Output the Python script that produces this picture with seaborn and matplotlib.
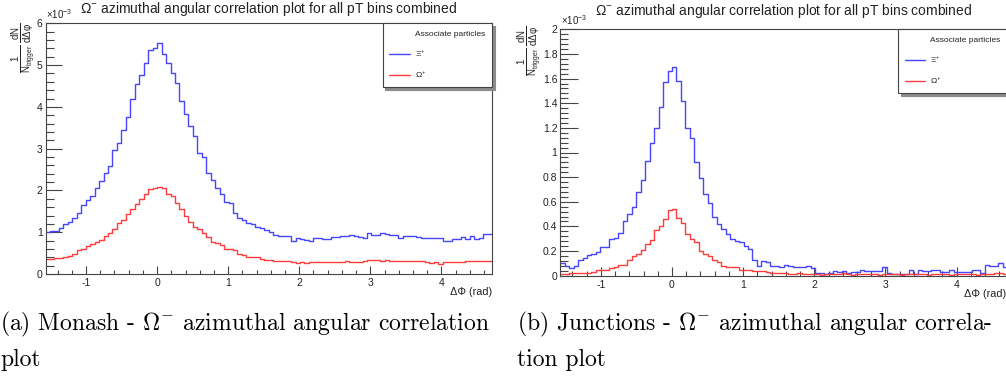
import numpy as np
import matplotlib
matplotlib.use("Agg")
import matplotlib.pyplot as plt
import seaborn as sns
from matplotlib.lines import Line2D
from matplotlib.ticker import MultipleLocator, FixedLocator

# Per-trigger yields (units of 1e-3) in 100 equal bins of delta-phi over [-pi/2, 3pi/2)
monash_xi = [
    1.00, 1.02, 1.04, 1.11, 1.19, 1.25, 1.35, 1.45, 1.64, 1.77,
    1.87, 2.05, 2.23, 2.41, 2.59, 2.96, 3.14, 3.44, 3.76, 4.18,
    4.54, 4.76, 5.06, 5.37, 5.42, 5.53, 5.26, 5.06, 4.80, 4.56,
    4.14, 3.84, 3.54, 3.30, 2.89, 2.79, 2.42, 2.26, 2.05, 1.91,
    1.73, 1.69, 1.47, 1.34, 1.30, 1.22, 1.19, 1.13, 1.10, 1.05,
    1.01, 0.93, 0.91, 0.91, 0.90, 0.79, 0.87, 0.83, 0.82, 0.79,
    0.87, 0.85, 0.84, 0.84, 0.88, 0.89, 0.90, 0.92, 0.93, 0.92,
    0.88, 0.86, 0.99, 0.94, 0.93, 0.97, 0.96, 0.93, 0.94, 0.85,
    0.91, 0.91, 0.92, 0.88, 0.86, 0.85, 0.86, 0.86, 0.85, 0.80,
    0.80, 0.83, 0.84, 0.89, 0.83, 0.90, 0.84, 0.86, 0.96, 0.95,
]
monash_omega = [
    0.35, 0.36, 0.38, 0.38, 0.40, 0.44, 0.49, 0.57, 0.61, 0.67,
    0.72, 0.77, 0.81, 0.91, 0.97, 1.07, 1.23, 1.29, 1.44, 1.55,
    1.68, 1.79, 1.91, 2.03, 2.06, 2.08, 2.05, 1.91, 1.87, 1.69,
    1.55, 1.39, 1.25, 1.12, 1.07, 0.99, 0.88, 0.77, 0.73, 0.69,
    0.60, 0.59, 0.57, 0.49, 0.45, 0.41, 0.40, 0.40, 0.35, 0.33,
    0.33, 0.32, 0.30, 0.30, 0.31, 0.28, 0.27, 0.28, 0.27, 0.28,
    0.29, 0.28, 0.29, 0.29, 0.28, 0.29, 0.29, 0.30, 0.29, 0.29,
    0.29, 0.32, 0.33, 0.33, 0.33, 0.32, 0.33, 0.32, 0.30, 0.31,
    0.31, 0.30, 0.30, 0.31, 0.30, 0.28, 0.27, 0.28, 0.24, 0.28,
    0.28, 0.28, 0.29, 0.28, 0.30, 0.31, 0.31, 0.31, 0.32, 0.31,
]
junctions_xi = [
    0.10, 0.08, 0.06, 0.08, 0.13, 0.14, 0.17, 0.18, 0.19, 0.23,
    0.23, 0.30, 0.31, 0.35, 0.44, 0.50, 0.56, 0.68, 0.78, 0.93,
    1.08, 1.20, 1.37, 1.57, 1.66, 1.69, 1.58, 1.42, 1.20, 1.12,
    0.92, 0.79, 0.66, 0.59, 0.48, 0.42, 0.38, 0.34, 0.30, 0.28,
    0.27, 0.24, 0.22, 0.13, 0.08, 0.12, 0.11, 0.08, 0.08, 0.07,
    0.09, 0.08, 0.07, 0.07, 0.07, 0.08, 0.06, 0.02, 0.02, 0.01,
    0.02, 0.04, 0.03, 0.04, 0.02, 0.03, 0.03, 0.05, 0.04, 0.04,
    0.04, 0.04, 0.07, 0.02, 0.01, 0.01, 0.01, 0.01, 0.05, 0.01,
    0.05, 0.04, 0.04, 0.05, 0.05, 0.03, 0.03, 0.05, 0.03, 0.03,
    0.03, 0.03, 0.05, 0.05, 0.02, 0.09, 0.08, 0.08, 0.10, 0.07,
]
junctions_omega = [
    0.010, 0.015, 0.020, 0.020, 0.020, 0.020, 0.020, 0.030, 0.050, 0.050,
    0.050, 0.060, 0.070, 0.090, 0.090, 0.130, 0.160, 0.180, 0.210, 0.260,
    0.290, 0.370, 0.400, 0.460, 0.530, 0.540, 0.470, 0.430, 0.340, 0.300,
    0.270, 0.200, 0.180, 0.160, 0.130, 0.110, 0.080, 0.070, 0.070, 0.070,
    0.050, 0.050, 0.050, 0.040, 0.040, 0.040, 0.030, 0.020, 0.020, 0.020,
    0.020, 0.015, 0.010, 0.020, 0.010, 0.015, 0.010, 0.010, 0.005, 0.010,
    0.015, 0.010, 0.010, 0.020, 0.010, 0.005, 0.010, 0.010, 0.015, 0.010,
    0.010, 0.005, 0.010, 0.015, 0.010, 0.010, 0.005, 0.010, 0.010, 0.015,
    0.010, 0.010, 0.005, 0.010, 0.015, 0.010, 0.010, 0.005, 0.010, 0.010,
    0.015, 0.010, 0.010, 0.005, 0.010, 0.015, 0.010, 0.020, 0.020, 0.015,
]

x_ticks = [-1, 0, 1, 2, 3, 4]
x_tick_labels = ["-1", "0", "1", "2", "3", "4"]
y_ticks_monash = [0, 1, 2, 3, 4, 5, 6]
y_tick_labels_monash = ["0", "1", "2", "3", "4", "5", "6"]
y_ticks_junctions = [0, 0.2, 0.4, 0.6, 0.8, 1.0, 1.2, 1.4, 1.6, 1.8, 2.0]
y_tick_labels_junctions = ["0", "0.2", "0.4", "0.6", "0.8", "1", "1.2", "1.4", "1.6", "1.8", "2"]

legend_header = "Associate particles"
legend_labels = [r"Ξ$^{+}$", r"Ω$^{+}$"]
plot_title = r"$\Omega^{-}$ azimuthal angular correlation plot for all pT bins combined"
captions = [
    (r"(a) Monash - $\Omega^{-}$ azimuthal angular correlation", "plot"),
    (r"(b) Junctions - $\Omega^{-}$ azimuthal angular correla-", "tion plot"),
]

sns.set_theme(style="white")
plt.rcParams["font.family"] = ["Liberation Sans", "DejaVu Sans"]
plt.rcParams["mathtext.fontset"] = "custom"
plt.rcParams["mathtext.rm"] = "Liberation Sans"
plt.rcParams["mathtext.it"] = "Liberation Sans:italic"
plt.rcParams["mathtext.bf"] = "Liberation Sans:bold"
plt.rcParams["axes.unicode_minus"] = False

BLUE = "#4646ff"
RED = "#ff3c3c"
FRAME = "#444444"

edges = np.linspace(-np.pi / 2, 3 * np.pi / 2, 101)
centers = 0.5 * (edges[:-1] + edges[1:])
bin_list = edges.tolist()

W, H = 1006, 381
fig = plt.figure(figsize=(W / 100, H / 100), dpi=100)
fig.patch.set_facecolor("white")

panels = [
    dict(rect=(45.5, 23.3, 492.0, 274.0), xi=monash_xi, om=monash_omega, ymax=6,
         yt=y_ticks_monash, ytl=y_tick_labels_monash, ymin_step=0.2,
         ylen=(11.3, 5.5), xlen=(5.8, 2.9), title_y=13, exp_y=19, ylab=(23, 48),
         xlab_y=295, cap_x=0),
    dict(rect=(560.2, 29.3, 1007.3, 275.7), xi=junctions_xi, om=junctions_omega, ymax=2,
         yt=y_ticks_junctions, ytl=y_tick_labels_junctions, ymin_step=0.04,
         ylen=(12.6, 6.0), xlen=(6.5, 3.6), title_y=15.5, exp_y=25, ylab=(529, 51),
         xlab_y=297, cap_x=517),
]

for k, p in enumerate(panels):
    x0, y0, x1, y1 = p["rect"]
    ax = fig.add_axes([x0 / W, 1 - y1 / H, (x1 - x0) / W, (y1 - y0) / H])
    ax.set_facecolor("white")

    sns.histplot(x=centers, weights=np.asarray(p["xi"]), bins=bin_list, element="step",
                 fill=False, color=BLUE, linewidth=1.0, ax=ax)
    sns.histplot(x=centers, weights=np.asarray(p["om"]), bins=bin_list, element="step",
                 fill=False, color=RED, linewidth=1.0, ax=ax)

    ax.set_xlim(edges[0], edges[-1])
    ax.set_ylim(0, p["ymax"])
    ax.set_xlabel("")
    ax.set_ylabel("")

    ax.xaxis.set_major_locator(FixedLocator(x_ticks))
    ax.set_xticklabels(x_tick_labels)
    ax.xaxis.set_minor_locator(MultipleLocator(0.2))
    ax.yaxis.set_major_locator(FixedLocator(p["yt"]))
    ax.set_yticklabels(p["ytl"])
    ax.yaxis.set_minor_locator(MultipleLocator(p["ymin_step"]))

    ax.tick_params(axis="both", which="both", direction="in", colors=FRAME,
                   labelcolor="#222222", labelsize=7.5, width=0.8,
                   top=False, right=False, bottom=True, left=True)
    ax.tick_params(axis="y", which="major", length=p["ylen"][0], pad=2)
    ax.tick_params(axis="y", which="minor", length=p["ylen"][1])
    ax.tick_params(axis="x", which="major", length=p["xlen"][0], pad=3)
    ax.tick_params(axis="x", which="minor", length=p["xlen"][1])
    for s in ax.spines.values():
        s.set_color(FRAME)
        s.set_linewidth(0.8)

    handles = [Line2D([], [], color="none"),
               Line2D([], [], color=BLUE, lw=1.0),
               Line2D([], [], color=RED, lw=1.0)]
    leg = ax.legend(handles, [legend_header] + legend_labels, loc="upper right",
                    bbox_to_anchor=(1, 1), borderaxespad=0, fontsize=6,
                    frameon=True, fancybox=False, framealpha=1,
                    edgecolor=FRAME, handlelength=2.5, handletextpad=0.6,
                    labelspacing=1.3, borderpad=0.8,
                    shadow={"color": "0.55", "alpha": 1.0})
    leg.get_frame().set_linewidth(0.8)
    for t in leg.get_texts():
        t.set_color("#222222")

    cx = 0.5 * (x0 + x1) / W
    fig.text(cx, 1 - p["title_y"] / H, plot_title, ha="center", va="baseline",
             fontsize=10, color="#222222")
    fig.text((x0 + 1) / W, 1 - p["exp_y"] / H, r"×10$^{-3}$", ha="left",
             va="baseline", fontsize=7, color="#222222")
    fig.text(p["ylab"][0] / W, 1 - p["ylab"][1] / H,
             r"$\frac{1}{\mathrm{N_{trigger}}}\,\frac{\mathrm{dN}}{\mathrm{d\Delta\varphi}}$",
             rotation=90, ha="center", va="center", fontsize=10, color="#222222")
    fig.text(min(x1, W) / W, 1 - p["xlab_y"] / H, "ΔΦ (rad)", ha="right",
             va="baseline", fontsize=7.8, color="#222222")

    line1, line2 = captions[k]
    fig.text(p["cap_x"] / W, 1 - 330 / H, line1, ha="left", va="baseline",
             fontsize=17, family="cmr10", math_fontfamily="cm", color="black")
    fig.text(p["cap_x"] / W, 1 - 366 / H, line2, ha="left", va="baseline",
             fontsize=17, family="cmr10", math_fontfamily="cm", color="black")

fig.savefig("out.png", dpi=100, facecolor="white")
